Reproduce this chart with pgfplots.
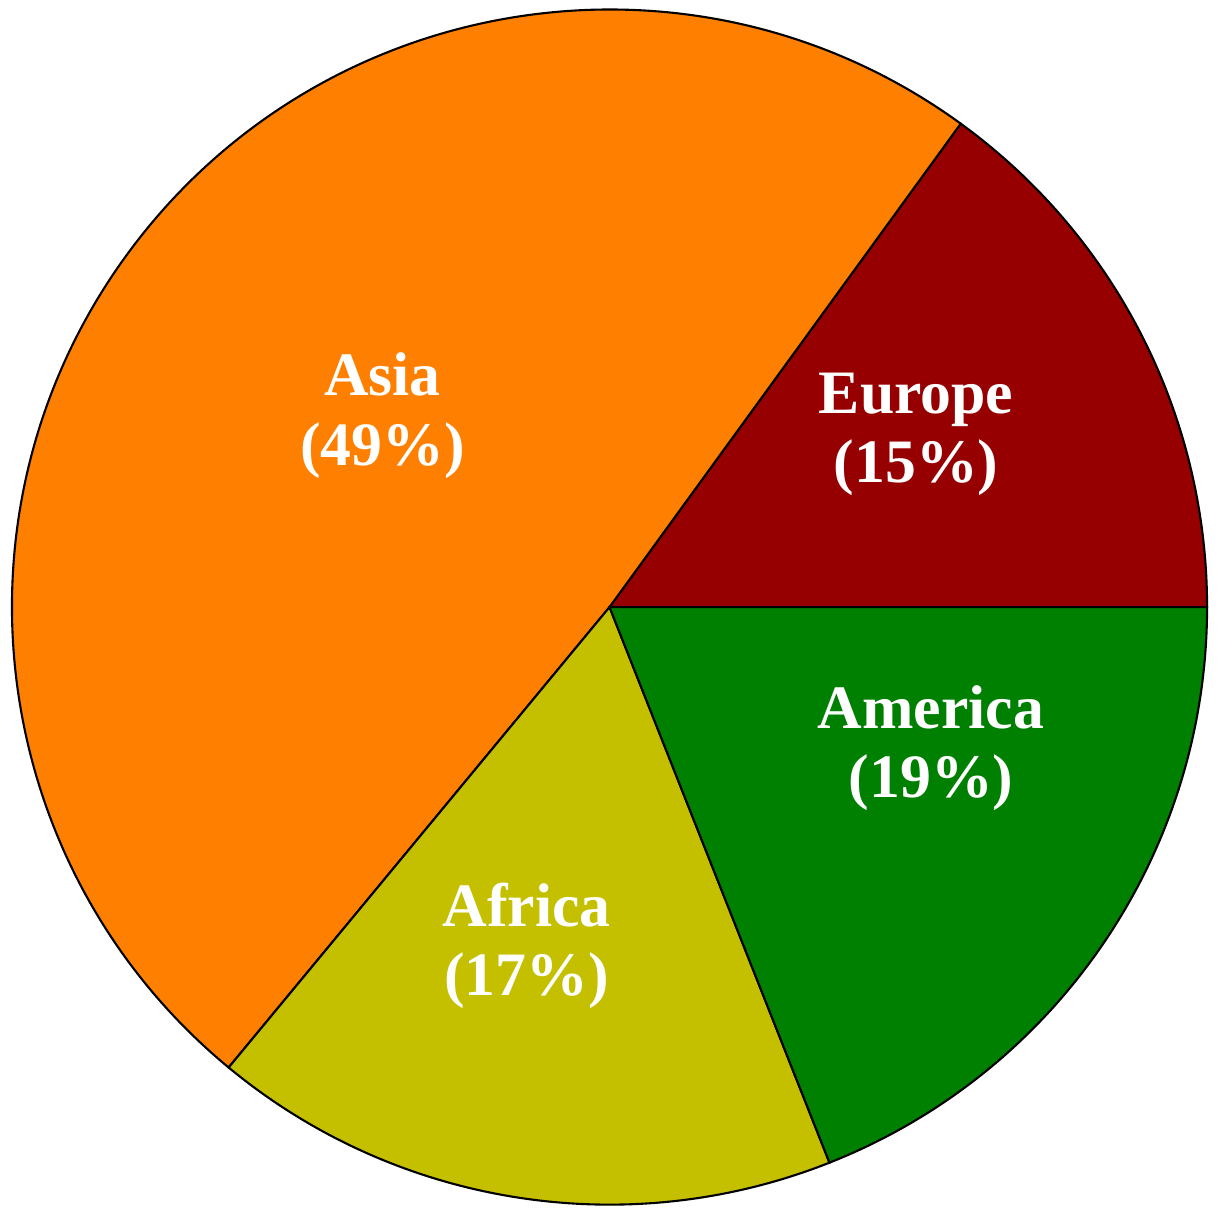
\documentclass[border=0pt]{standalone}
\usepackage{pgfplots}
\pgfplotsset{compat=1.18}
\usetikzlibrary{calc}
\usepackage{fontspec}
\setmainfont{Liberation Serif}
\definecolor{asia}{HTML}{FF8000}
\definecolor{europe}{HTML}{960000}
\definecolor{africa}{HTML}{C4C000}
\definecolor{america}{HTML}{008000}
\def\R{5cm}
\begin{document}
\begin{tikzpicture}
\begin{axis}[hide axis, x=5cm, y=5cm, xmin=-1, xmax=1, ymin=-1, ymax=1, clip=false]
  % shares: Europe 15, Asia 49, Africa 17, America 19 (percent, 3.6 deg each)
  \coordinate (c) at (axis cs:0,0);
  \filldraw[fill=europe, draw=black, line width=0.5pt] (axis cs:0,0) -- ++(0:\R) arc[start angle=0, end angle=54, radius=\R] -- cycle;
  \filldraw[fill=asia, draw=black, line width=0.5pt] (axis cs:0,0) -- ++(54:\R) arc[start angle=54, end angle=230.4, radius=\R] -- cycle;
  \filldraw[fill=africa, draw=black, line width=0.5pt] (axis cs:0,0) -- ++(230.4:\R) arc[start angle=230.4, end angle=291.6, radius=\R] -- cycle;
  \filldraw[fill=america, draw=black, line width=0.5pt] (axis cs:0,0) -- ++(291.6:\R) arc[start angle=291.6, end angle=360, radius=\R] -- cycle;
  \addplot[draw=none, nodes near coords, point meta=explicit symbolic,
    every node near coord/.style={anchor=center, align=center, text=white,
      font=\bfseries\fontsize{14.7}{16.6}\selectfont}]
    coordinates {
      (-0.38,0.321) [{Asia\\(49\%)}]
      (0.513,0.289) [{Europe\\(15\%)}]
      (0.538,-0.236) [{America\\(19\%)}]
      (-0.139,-0.567) [{Africa\\(17\%)}]
    };
\end{axis}
\pgfresetboundingbox
\path ($(c)+(-5.1cm,-5.08cm)$) rectangle ($(c)+(5.1cm,5.08cm)$);
\end{tikzpicture}
\end{document}
